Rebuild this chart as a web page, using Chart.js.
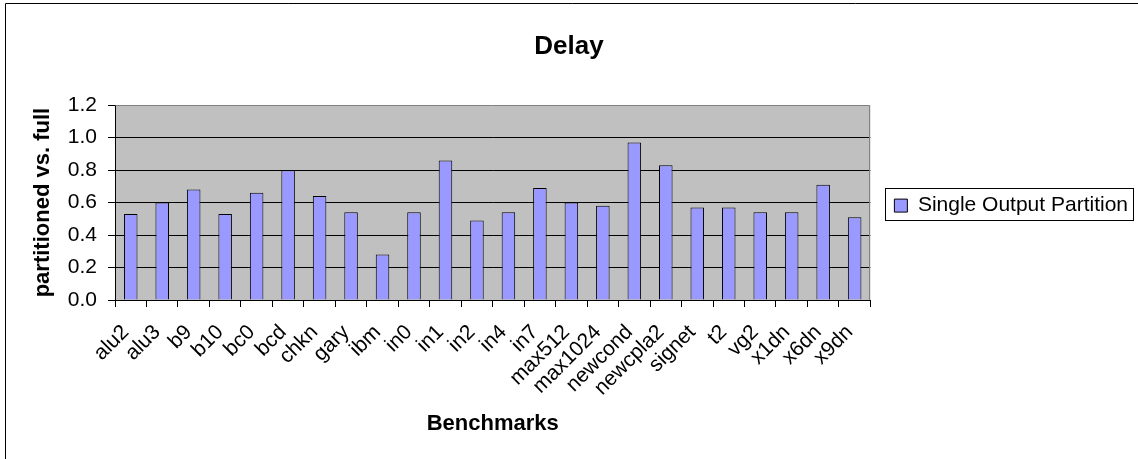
<!DOCTYPE html>
<html>
<head>
<meta charset="utf-8">
<script src="https://cdn.jsdelivr.net/npm/chart.js@4/dist/chart.umd.min.js"></script>
<style>
  html, body { margin: 0; padding: 0; background: #ffffff; }
  #wrap { width: 1138px; height: 459px; position: relative; }
</style>
</head>
<body>
<div id="wrap"><canvas id="c" width="1138" height="459"></canvas></div>
<script>
// Benchmark circuits and delay of the partitioned result relative to the full one
const benchmarks = ['alu2', 'alu3', 'b9', 'b10', 'bc0', 'bcd', 'chkn', 'gary', 'ibm', 'in0', 'in1', 'in2',
  'in4', 'in7', 'max512', 'max1024', 'newcond', 'newcpla2', 'signet', 't2', 'vg2', 'x1dn', 'x6dn', 'x9dn'];
const singleOutputPartition = [0.53, 0.60, 0.68, 0.53, 0.66, 0.80, 0.64, 0.54, 0.28, 0.54, 0.86, 0.49,
  0.54, 0.69, 0.60, 0.58, 0.97, 0.83, 0.57, 0.57, 0.54, 0.54, 0.71, 0.51];
const yTickValues = [0.0, 0.2, 0.4, 0.6, 0.8, 1.0, 1.2];

const FONT = "'Liberation Sans', Arial, sans-serif";

// Grey plot background, plot frame, outer chart frame and legend frame
const framePlugin = {
  id: 'frames',
  afterLayout(chart) {
    // keep the legend centred on the plot area rather than the whole canvas
    const lg = chart.legend, a = chart.chartArea;
    if (lg) {
      lg.top = a.top + 3;
      lg.bottom = a.bottom + 3;
      lg.height = lg.bottom - lg.top;
    }
  },
  beforeDraw(chart) {
    const { ctx, chartArea: a } = chart;
    ctx.save();
    ctx.fillStyle = '#ffffff';
    ctx.fillRect(0, 0, chart.width, chart.height);
    ctx.fillStyle = '#c0c0c0';
    ctx.fillRect(a.left, a.top, a.right - a.left, a.bottom - a.top);
    ctx.restore();
  },
  afterDraw(chart) {
    const { ctx, chartArea: a } = chart;
    ctx.save();
    ctx.lineWidth = 1;
    // plot area top and right edges
    ctx.strokeStyle = '#808080';
    ctx.beginPath();
    ctx.moveTo(Math.round(a.left) + 0.5, Math.round(a.top) + 0.5);
    ctx.lineTo(Math.round(a.right) - 0.5, Math.round(a.top) + 0.5);
    ctx.lineTo(Math.round(a.right) - 0.5, Math.round(a.bottom));
    ctx.stroke();
    // outer chart frame
    ctx.strokeStyle = '#000000';
    ctx.beginPath();
    ctx.moveTo(5.5, chart.height + 2);
    ctx.lineTo(5.5, 3.5);
    ctx.lineTo(chart.width + 2, 3.5);
    ctx.stroke();
    // legend frame
    const lg = chart.legend;
    if (lg && lg.legendHitBoxes && lg.legendHitBoxes.length) {
      const hb = lg.legendHitBoxes[0];
      const x0 = Math.round(hb.left - 9) + 0.5;
      const y0 = Math.round(hb.top - 7) + 0.5;
      const x1 = Math.round(hb.left + hb.width + 5) + 0.5;
      const y1 = Math.round(hb.top + 25) + 0.5;
      ctx.strokeStyle = '#000000';
      ctx.strokeRect(x0, y0, x1 - x0, y1 - y0);
    }
    ctx.restore();
  }
};

new Chart(document.getElementById('c'), {
  type: 'bar',
  data: {
    labels: benchmarks,
    datasets: [{
      label: 'Single Output Partition',
      data: singleOutputPartition,
      backgroundColor: '#9999ff',
      borderColor: '#000000',
      borderWidth: 1,
      barPercentage: 0.43,
      categoryPercentage: 1.0
    }]
  },
  options: {
    responsive: false,
    animation: false,
    devicePixelRatio: 1,
    layout: { padding: { top: 0, left: 0, right: 0, bottom: 0 } },
    plugins: {
      tooltip: { enabled: false },
      title: {
        display: true,
        text: 'Delay',
        color: '#000000',
        font: { family: FONT, size: 26, weight: 'bold' },
        padding: { top: 31, bottom: 43 }
      },
      legend: {
        display: true,
        position: 'right',
        labels: {
          color: '#000000',
          font: { family: FONT, size: 21 },
          boxWidth: 13,
          boxHeight: 13,
          padding: 24
        }
      }
    },
    scales: {
      x: {
        grid: {
          offset: true,
          drawOnChartArea: false,
          drawTicks: true,
          tickLength: 7,
          tickColor: '#000000'
        },
        border: { display: true, color: '#000000', width: 1 },
        ticks: {
          color: '#000000',
          font: { family: FONT, size: 21 },
          minRotation: 45,
          maxRotation: 45,
          autoSkip: false,
          padding: 13,
          labelOffset: -5
        },
        title: {
          display: true,
          text: 'Benchmarks',
          color: '#000000',
          font: { family: FONT, size: 22, weight: 'bold' },
          padding: { top: 0, bottom: 22 }
        },
        afterFit(scale) { scale.height = 159; }
      },
      y: {
        min: 0,
        max: 1.2,
        grid: {
          color: (c) => (c.tick && Math.abs(c.tick.value - 1.2) < 1e-6) ? 'rgba(0,0,0,0)' : '#000000',
          drawTicks: true,
          tickLength: 7,
          tickColor: '#000000'
        },
        border: { display: true, color: '#000000', width: 1 },
        afterBuildTicks(scale) { scale.ticks = yTickValues.map(v => ({ value: v })); },
        ticks: {
          color: '#000000',
          font: { family: FONT, size: 21 },
          padding: 11,
          callback: (v) => Number(v).toFixed(1)
        },
        title: {
          display: true,
          text: 'partitioned vs. full',
          color: '#000000',
          font: { family: FONT, size: 22, weight: 'bold' },
          padding: { top: 30, bottom: 0 }
        },
        afterFit(scale) { scale.width = 115; }
      }
    }
  },
  plugins: [framePlugin]
});
</script>
</body>
</html>
